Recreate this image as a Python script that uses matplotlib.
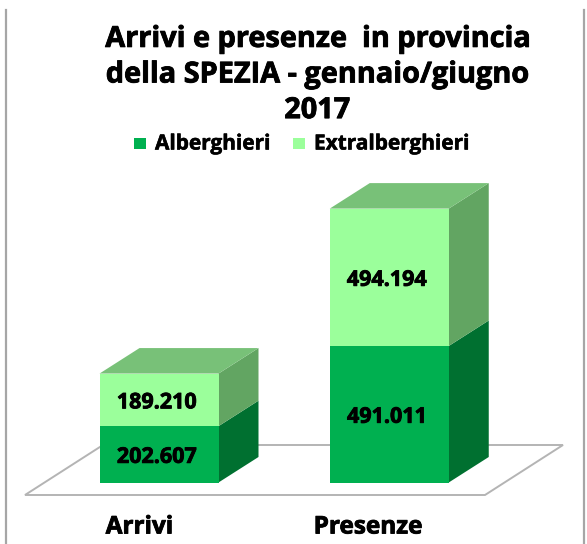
import matplotlib
matplotlib.use("Agg")
import matplotlib.pyplot as plt
from matplotlib.patches import Polygon, Rectangle
from matplotlib.lines import Line2D
import matplotlib.patheffects as pe

categories = ["Arrivi", "Presenze"]
series_names = ["Alberghieri", "Extralberghieri"]
alberghieri = [202607, 491011]
extralberghieri = [189210, 494194]
value_labels = [["202.607", "491.011"], ["189.210", "494.194"]]
title = "Arrivi e presenze  in provincia\ndella SPEZIA - gennaio/giugno\n2017"

W, H = 587, 544
FONT = "Open Sans"
front = ["#00B050", "#9BFF9B"]
side = ["#007030", "#62A562"]
topc = "#78C178"
edge = "#B4B4B4"

fig = plt.figure(figsize=(W / 100, H / 100), dpi=100, facecolor="white")
ax = fig.add_axes([0, 0, 1, 1])
ax.axis("off")

# scales: category 0 centred at 159 px, category 1 at 389.25 px; value 0 at y=482.5 px
px_x = 230.25
px_val = 3597.0
ax.set_xlim(-159 / px_x, (W - 159) / px_x)
ax.set_ylim(-(H - 482.5) * px_val, 482.5 * px_val)
bw = 119 / px_x
dx = 40 / px_x
dy = 25.5 * px_val

def P(x, y):
    return ((x - 159) / px_x, (482.5 - y) * px_val)

# outer frame lines
frame_col = "#A6A6A6"
fig.add_artist(Line2D([6 / W, 6 / W], [0, 1 - 10 / H], color=frame_col, lw=1.6))
fig.add_artist(Line2D([584 / W, 584 / W], [0, 1 - 10 / H], color=frame_col, lw=1.6))

# floor
ax.add_patch(Polygon([P(25, 495), P(485, 495), P(563, 445), P(103, 445)],
                     closed=True, fc="white", ec=edge, lw=1.4, zorder=1))

# stacked 3D bars
for i, cat in enumerate(categories):
    bottom = 0
    for s, vals in enumerate([alberghieri, extralberghieri]):
        v = vals[i]
        l, r = i - bw / 2, i + bw / 2
        ax.add_patch(Polygon([(r, bottom), (r + dx, bottom + dy), (r + dx, bottom + v + dy), (r, bottom + v)],
                             closed=True, fc=side[s], ec="none", zorder=2 + s))
        ax.add_patch(Rectangle((l, bottom), bw, v, fc=front[s], ec="none", zorder=3 + s))
        ax.text(i - 0.01, bottom + v / 2 - 3 * px_val, value_labels[s][i], ha="center", va="center", family=FONT,
                fontweight="bold", fontsize=15.5, color="black", zorder=10,
                path_effects=[pe.withStroke(linewidth=0.6, foreground="black")])
        bottom += v
    ax.add_patch(Polygon([(l, bottom), (r, bottom), (r + dx, bottom + dy), (l + dx, bottom + dy)],
                         closed=True, fc=topc, ec="none", zorder=6))
    ax.text(i - (0.085 if i == 0 else 0.093), -(527.5 - 482.5) * px_val, cat, ha="center", va="center",
            family=FONT, fontweight="bold", fontsize=17.5, color="black",
            path_effects=[pe.withStroke(linewidth=0.6, foreground="black")])

# title
fig.text(317 / W, 1 - 75 / H, title, ha="center", va="center", family=FONT, fontweight="bold",
         fontsize=20.8, linespacing=1.3, color="black",
         path_effects=[pe.withStroke(linewidth=0.6, foreground="black")])

# legend
fig.add_artist(Rectangle((133.5 / W, 1 - 149 / H), 12 / W, 11 / H, transform=fig.transFigure, fc=front[0], ec="none"))
fig.add_artist(Rectangle((292.5 / W, 1 - 149 / H), 12 / W, 11 / H, transform=fig.transFigure, fc=front[1], ec="none"))
for x, name in zip([155, 314], series_names):
    fig.text(x / W, 1 - 144 / H, name, ha="left", va="center", family=FONT, fontweight="bold",
             fontsize=15, color="black",
             path_effects=[pe.withStroke(linewidth=0.4, foreground="black")])

fig.savefig("out.png", dpi=100)
